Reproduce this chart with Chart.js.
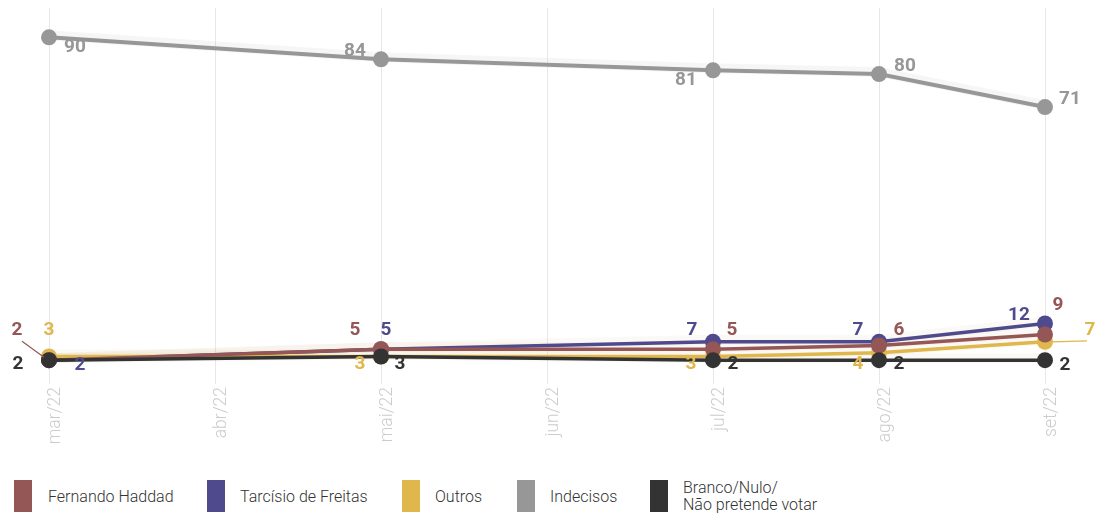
<!DOCTYPE html>
<html>
<head>
<meta charset="utf-8">
<script src="https://cdn.jsdelivr.net/npm/chart.js@4"></script>
<style>
  html, body { margin: 0; padding: 0; background: #fff; }
  body { width: 1096px; height: 515px; position: relative; overflow: hidden; font-family: Roboto, sans-serif; }
  #wrap { position: absolute; left: 0; top: 0; width: 1096px; height: 460px; }
  .lg { position: absolute; font-size: 16px; color: #333; line-height: 17px; font-weight: 300; }
  .sq { position: absolute; width: 18px; height: 32px; top: 480px; }
</style>
</head>
<body>
<div id="wrap"><canvas id="c"></canvas></div>
<div id="legend"></div>
<script>
// ---- data ----
const months = ["mar/22", "abr/22", "mai/22", "jun/22", "jul/22", "ago/22", "set/22"];
const haddad   = [2, null, 5, null, 5, 6, 9];
const tarcisio = [2, null, 5, null, 7, 7, 12];
const outros   = [3, null, 3, null, 3, 4, 7];
const indecisos = [90, null, 84, null, 81, 80, 71];
const branco   = [2, null, 3, null, 2, 2, 2];
const seriesNames = ["Fernando Haddad", "Tarcísio de Freitas", "Outros", "Indecisos", ["Branco/Nulo/", "Não pretende votar"]];

const colors = {
  haddad: "#955656",
  tarcisio: "#4f4a8e",
  outros: "#e0b74c",
  indecisos: "#979797",
  branco: "#333333"
};

// label placement (pixel offsets relative to each point: [dx, dy])
const labelPlacement = {
  haddad:    {0: [-32, -30], 2: [-26, -19], 4: [19, -19], 5: [20, -15], 6: [13, -29]},
  tarcisio:  {0: [31, 5], 2: [5, -19], 4: [-21, -12], 5: [-21, -12], 6: [-26, -8]},
  outros:    {0: [0, -26], 2: [-21, 8], 4: [-22, 8], 5: [-21, 11], 6: [45, -12]},
  indecisos: {0: [26, 10], 2: [-26, -8], 4: [-27, 10], 5: [26, -8], 6: [25, -8]},
  branco:    {0: [-31, 4], 2: [19, 8], 4: [20, 4], 5: [20, 4], 6: [20, 5]}
};
const leaders = {
  haddad: {0: [[-27, -19], [-5, -3]]},
  outros: {6: [[7, 0], [42, -1]]}
};

function ds(key, label, data, order) {
  return {
    key: key,
    label: label,
    data: data,
    borderColor: colors[key],
    backgroundColor: colors[key],
    pointBackgroundColor: colors[key],
    pointBorderWidth: 0,
    pointRadius: 8,
    pointHoverRadius: 8,
    borderWidth: key === "indecisos" ? 4 : 3.5,
    tension: 0,
    spanGaps: true,
    order: order
  };
}

const bandPlugin = {
  id: "band",
  beforeDatasetsDraw(chart) {
    const ctx = chart.ctx;
    chart.data.datasets.forEach((d, i) => {
      const meta = chart.getDatasetMeta(i);
      const pts = meta.data.filter((p, j) => d.data[j] !== null);
      ctx.save();
      ctx.strokeStyle = d.key === "indecisos" ? "rgba(0,0,0,0.035)" : "rgba(200,170,120,0.07)";
      ctx.lineWidth = 10;
      ctx.lineJoin = "round";
      ctx.beginPath();
      pts.forEach((p, k) => {
        if (k === 0) ctx.moveTo(p.x, p.y - 2); else ctx.lineTo(p.x, p.y - 2);
      });
      ctx.stroke();
      ctx.restore();
    });
  }
};

const labelPlugin = {
  id: "valueLabels",
  afterDatasetsDraw(chart) {
    const ctx = chart.ctx;
    ctx.save();
    ctx.font = "bold 19px Roboto";
    ctx.textAlign = "center";
    ctx.textBaseline = "middle";
    chart.data.datasets.forEach((d, i) => {
      const meta = chart.getDatasetMeta(i);
      const place = labelPlacement[d.key] || {};
      const lead = leaders[d.key] || {};
      d.data.forEach((v, j) => {
        if (v === null) return;
        const p = meta.data[j];
        if (lead[j]) {
          ctx.strokeStyle = d.borderColor;
          ctx.lineWidth = 1.2;
          ctx.beginPath();
          ctx.moveTo(p.x + lead[j][0][0], p.y + lead[j][0][1]);
          ctx.lineTo(p.x + lead[j][1][0], p.y + lead[j][1][1]);
          ctx.stroke();
        }
        const off = place[j] || [0, -18];
        ctx.fillStyle = d.borderColor;
        ctx.fillText(String(v), p.x + off[0], p.y + off[1]);
      });
    });
    ctx.restore();
  }
};

Chart.defaults.font.family = "Roboto";

new Chart(document.getElementById("c"), {
  type: "line",
  data: {
    labels: months,
    datasets: [
      ds("haddad", seriesNames[0], haddad, 2),
      ds("tarcisio", seriesNames[1], tarcisio, 4),
      ds("outros", seriesNames[2], outros, 3),
      ds("indecisos", seriesNames[3], indecisos, 5),
      ds("branco", "Branco/Nulo/Não pretende votar", branco, 1)
    ]
  },
  options: {
    responsive: true,
    maintainAspectRatio: false,
    animation: false,
    layout: { padding: { left: 49, right: 51, top: 7, bottom: 0 } },
    plugins: {
      legend: { display: false },
      tooltip: { enabled: false }
    },
    scales: {
      x: {
        type: "category",
        offset: false,
        grid: { display: true, color: "#e8e8e8", lineWidth: 1, drawTicks: true, tickLength: 4 },
        border: { display: false },
        ticks: {
          color: "#cccccc",
          font: { size: 17.5, family: "Roboto", weight: 300 },
          minRotation: 90,
          maxRotation: 90,
          padding: 3,
          labelOffset: 7,
          autoSkip: false
        },
        afterFit(scale) { scale.height = 80; }
      },
      y: {
        display: false,
        min: -3.4,
        max: 98
      }
    }
  },
  plugins: [bandPlugin, labelPlugin]
});

// ---- HTML legend ----
const legendItems = [
  {name: seriesNames[0], color: colors.haddad, sq: 14, tx: 48},
  {name: seriesNames[1], color: colors.tarcisio, sq: 207, tx: 240},
  {name: seriesNames[2], color: colors.outros, sq: 402, tx: 435},
  {name: seriesNames[3], color: colors.indecisos, sq: 517, tx: 550},
  {name: seriesNames[4], color: colors.branco, sq: 650, tx: 683}
];
const lg = document.getElementById("legend");
legendItems.forEach(it => {
  const s = document.createElement("div");
  s.className = "sq";
  s.style.left = it.sq + "px";
  s.style.background = it.color;
  lg.appendChild(s);
  const t = document.createElement("div");
  t.className = "lg";
  t.style.left = it.tx + "px";
  if (Array.isArray(it.name)) {
    t.style.top = "479px";
    t.innerHTML = it.name.join("<br>");
  } else {
    t.style.top = "488px";
    t.textContent = it.name;
  }
  lg.appendChild(t);
});
</script>
</body>
</html>
